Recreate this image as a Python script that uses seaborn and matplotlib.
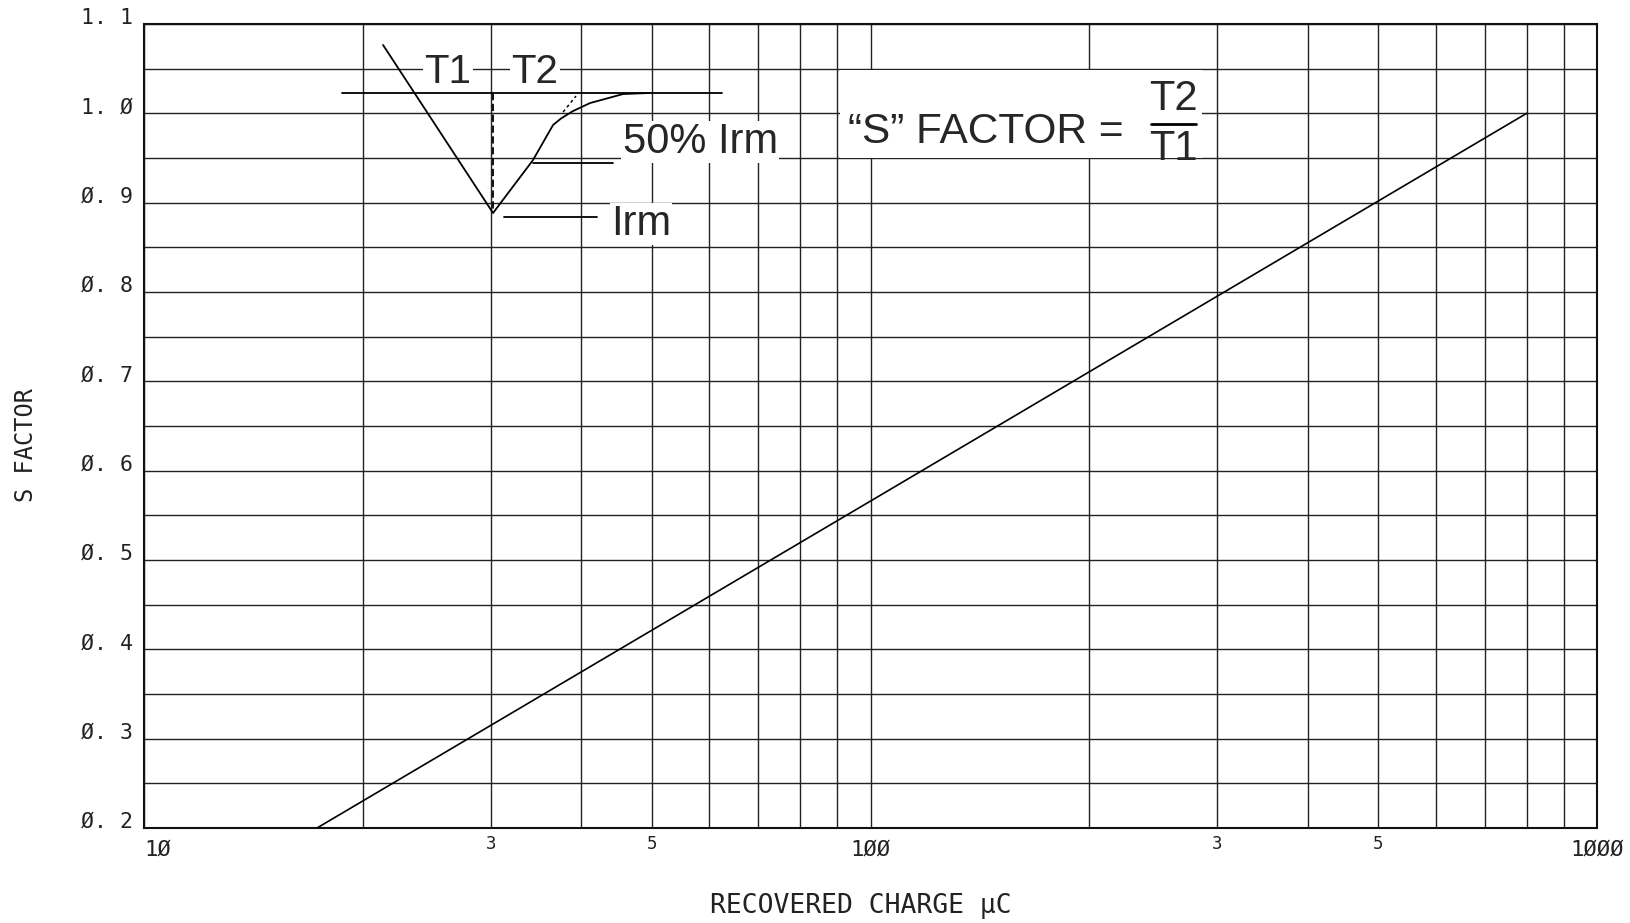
import seaborn as sns
import pandas as pd
import matplotlib.pyplot as plt
from matplotlib.patches import Rectangle

# dati
charge = [17.3, 100, 800]
s_factor = [0.2, 0.566, 1.0]

y_ticks = [0.2, 0.3, 0.4, 0.5, 0.6, 0.7, 0.8, 0.9, 1.0, 1.1]
y_labels = ["Ø. 2", "Ø. 3", "Ø. 4", "Ø. 5", "Ø. 6", "Ø. 7", "Ø. 8", "Ø. 9", "1. Ø", "1. 1"]
y_minor = [0.25, 0.35, 0.45, 0.55, 0.65, 0.75, 0.85, 0.95, 1.05]
x_ticks = [10, 100, 1000]
x_labels = ["1Ø", "1ØØ", "1ØØØ"]
x_minor = [20, 30, 40, 50, 60, 70, 80, 90, 200, 300, 400, 500, 600, 700, 800, 900]
x_minor_labels = ["", "3", "", "5", "", "", "", "", "", "3", "", "5", "", "", "", ""]

# schizzo della forma d'onda (coordinate frazione degli assi)
wave_x = [0.1645, 0.2402, 0.2677, 0.2815, 0.2870, 0.2950, 0.3070, 0.3297, 0.3482]
wave_y = [0.9739, 0.7649, 0.8308, 0.8744, 0.8825, 0.8915, 0.9017, 0.9129, 0.9142]

data = pd.DataFrame({"Q": charge, "S": s_factor})

sns.set_theme(style="white")
plt.rcParams["font.family"] = ["DejaVu Sans Mono", "DejaVu Sans"]

fig = plt.figure(figsize=(16.31, 9.23), dpi=100)
ax = fig.add_axes([0.0883, 0.1029, 0.8909, 0.8711])

sns.lineplot(data=data, x="Q", y="S", color="black", linewidth=1.2, ax=ax, zorder=3)

ax.set_xscale("log")
ax.set_xlim(10, 1000)
ax.set_ylim(0.2, 1.1)

ax.set_yticks(y_ticks, labels=y_labels)
ax.set_yticks(y_minor, minor=True)
ax.set_xticks(x_ticks, labels=x_labels)
ax.set_xticks(x_minor, labels=x_minor_labels, minor=True)

ax.set_axisbelow(True)
ax.grid(which="both", color="#222222", linewidth=1.0)

ax.tick_params(axis="y", which="major", direction="out", length=6, width=1.2,
               pad=2, labelsize=15.5, colors="#222222")
ax.tick_params(axis="y", which="minor", length=0)
ax.tick_params(axis="x", which="major", direction="inout", length=6, width=1.2,
               pad=5, labelsize=16, colors="#222222")
ax.tick_params(axis="x", which="minor", length=0, pad=5, labelsize=12.5, colors="#222222")
for t in ax.yaxis.get_major_ticks():
    t.label1.set_va("baseline")
ax.xaxis.get_major_ticks()[0].label1.set_ha("left")
ax.xaxis.get_major_ticks()[0].label1.set_x(-0.004)

for sp in ax.spines.values():
    sp.set_color("#111111")
    sp.set_linewidth(1.5)

ax.set_xlabel("")
ax.set_ylabel("")
fig.text(0.528, 0.0184, "RECOVERED CHARGE μC", ha="center", va="center",
         fontsize=19, color="#222222")
fig.text(0.016, 0.518, "S FACTOR", rotation=90, ha="center", va="center",
         fontsize=17, color="#222222")

# disegno dell'inserto
tr = ax.transAxes
ins = dict(transform=tr, color="black", linewidth=1.3, zorder=4)
ax.plot(wave_x, wave_y, **ins)
ax.plot([0.1363, 0.3978], [0.9138, 0.9138], **ins)
ax.plot([0.2402, 0.2402], [0.9142, 0.7649], transform=tr, color="black",
        linewidth=1.3, linestyle=(0, (4, 2)), zorder=4)
ax.plot([0.2884, 0.2973], [0.8905, 0.9104], transform=tr, color="black",
        linewidth=1.1, linestyle=(0, (2, 2)), zorder=4)
ax.plot([0.2677, 0.3228], [0.8271, 0.8271], **ins)
ax.plot([0.2478, 0.3118], [0.7600, 0.7600], **ins)

sans = ["Liberation Sans", "DejaVu Sans"]
box = dict(facecolor="white", edgecolor="none", pad=1)
ax.text(0.2092, 0.9403, "T1", transform=tr, ha="center", va="center",
        fontsize=29, family=sans, bbox=box, zorder=5)
ax.text(0.2691, 0.9403, "T2", transform=tr, ha="center", va="center",
        fontsize=29, family=sans, bbox=box, zorder=5)
ax.text(0.3827, 0.8532, "50% Irm", transform=tr, ha="center", va="center",
        fontsize=30, family=sans, bbox=box, zorder=5)
ax.text(0.3421, 0.7512, "Irm", transform=tr, ha="center", va="center",
        fontsize=30, family=sans, bbox=box, zorder=5)

ax.add_patch(Rectangle((0.4790, 0.8333), 0.2491, 0.1095, transform=tr,
                       facecolor="white", edgecolor="none", zorder=4))
ax.text(0.6740, 0.8660, "\u201cS\u201d FACTOR =", transform=tr, ha="right",
        va="center", fontsize=30.5, family=sans, zorder=5)
ax.text(0.7082, 0.9070, "T2", transform=tr, ha="center", va="center",
        fontsize=30, family=sans, zorder=5)
ax.text(0.7082, 0.8440, "T1", transform=tr, ha="center", va="center",
        fontsize=30, family=sans, zorder=5)
ax.plot([0.6930, 0.7240], [0.8760, 0.8760], transform=tr, color="black",
        linewidth=2.0, zorder=5)

plt.savefig("out.png", dpi=100)
